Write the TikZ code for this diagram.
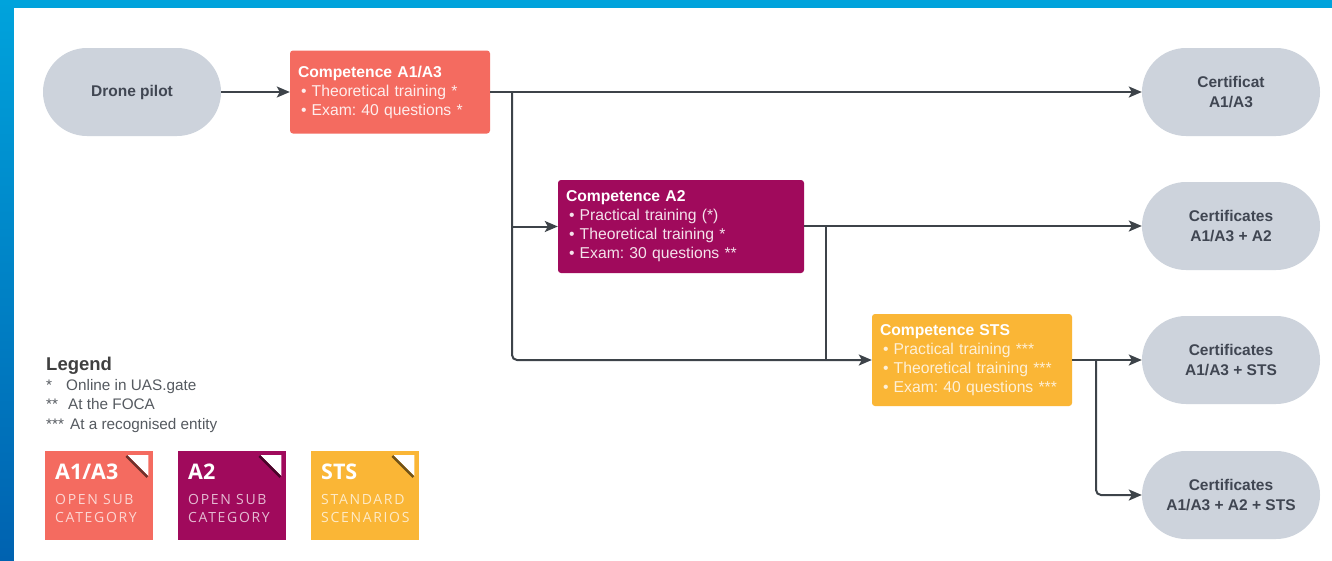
\documentclass[tikz,border=0pt]{standalone}
\usepackage{fontspec}
\setmainfont{Liberation Sans}
\newfontfamily\legfont{Open Sans}
\newfontfamily\legfontsp{Open Sans}[LetterSpace=12]
\usetikzlibrary{arrows.meta}
\frenchspacing

\definecolor{pillgray}{HTML}{CDD3DC}
\definecolor{pilltext}{HTML}{404652}
\definecolor{compred}{HTML}{F46B60}
\definecolor{comppurple}{HTML}{A00A5C}
\definecolor{compamber}{HTML}{FAB636}
\definecolor{wire}{HTML}{3D4349}
\definecolor{legtext}{HTML}{555A60}
\definecolor{frametop}{HTML}{00A3DC}
\definecolor{framebot}{HTML}{0062B0}

\begin{document}
\begin{tikzpicture}[x=1pt,y=-1pt,
  pill/.style={rectangle, rounded corners=44pt, fill=pillgray,
    minimum width=178pt, minimum height=88pt, inner sep=0pt,
    text=pilltext, align=center,
    font=\bfseries\fontsize{15.5}{20}\selectfont},
  comp/.style={rectangle, rounded corners=3pt, align=left,
    inner xsep=8pt, inner ysep=0pt, text=white,
    font=\fontsize{15.7}{19}\selectfont},
  conn/.style={draw=wire, line width=2pt},
  arr/.style={conn, -{Stealth[length=13pt,width=11pt,inset=3pt]}},
  legline/.style={anchor=base west, inner sep=0pt, text=legtext,
    font=\fontsize{15.3}{18}\selectfont},
  legbox/.style={rectangle, minimum width=108pt, minimum height=89pt,
    inner sep=0pt, anchor=north west},
  legtitle/.style={anchor=base west, inner sep=0pt, text=white,
    font=\legfont\bfseries\fontsize{21.5}{24}\selectfont},
  legsub/.style={anchor=base west, inner sep=0pt, text=white, text opacity=0.72,
    font=\legfontsp\fontsize{14}{17}\selectfont},
]
% frame and canvas
\useasboundingbox (0,0) rectangle (1332,560);
\shade[top color=frametop, bottom color=framebot] (0,0) rectangle (1332,560);
\fill[white] (14,8) rectangle (1334,562);

% start and certificates
\node[pill] (pilot) at (132,92) {Drone pilot};
\node[pill] (c1) at (1231,92)  {Certificat\\A1/A3};
\node[pill] (c2) at (1231,226) {Certificates\\A1/A3 + A2};
\node[pill] (c3) at (1231,360) {Certificates\\A1/A3 + STS};
\node[pill] (c4) at (1231,495) {Certificates\\A1/A3 + A2 + STS};

% competence boxes
\node[comp, fill=compred, text width=184pt, minimum height=83pt] (a13) at (390,92)
  {\textbf{Competence A1/A3}\\
   \color{white!88!compred}\hspace*{3pt}• Theoretical training *\\
   \color{white!88!compred}\hspace*{3pt}• Exam: 40 questions *};
\node[comp, fill=comppurple, text width=230pt, minimum height=93pt] (a2) at (681,226.5)
  {\textbf{Competence A2}\\
   \color{white!88!comppurple}\hspace*{3pt}• Practical training (*)\\
   \color{white!88!comppurple}\hspace*{3pt}• Theoretical training *\\
   \color{white!88!comppurple}\hspace*{3pt}• Exam: 30 questions **};
\node[comp, fill=compamber, text width=184pt, minimum height=92pt] (sts) at (972,360)
  {\textbf{Competence STS}\\
   \color{white!80!compamber}\hspace*{3pt}• Practical training ***\\
   \color{white!80!compamber}\hspace*{3pt}• Theoretical training ***\\
   \color{white!80!compamber}\hspace*{3pt}• Exam: 40 questions ***};

% branch points
\coordinate (j1) at (512,92);
\coordinate (j2) at (826,226);
\coordinate (j3) at (1096,360);

% connectors
\draw[arr] (pilot) -- (a13);
\draw[arr] (a13) -- (c1);
\draw[arr] (j1) |- (a2.west);
\draw[arr, rounded corners=5pt] (j1) |- (sts.west);
\draw[arr] (a2.east |- c2) -- (c2);
\draw[conn] (j2) -- (j2 |- sts.west);
\draw[arr] (sts) -- (c3);
\draw[arr, rounded corners=5pt] (j3) |- (c4.west);

% legend
\node[anchor=base west, inner sep=0pt, text=black!75,
  font=\bfseries\fontsize{18.5}{22}\selectfont] (legend) at (46,370) {Legend};
\node[legline] (l1) at (46,390)   {\makebox[20pt][l]{*}Online in UAS.gate};
\node[legline] (l2) at (46,409.5) {\makebox[22pt][l]{**}At the FOCA};
\node[legline] (l3) at (46,429)   {\makebox[24pt][l]{***}At a recognised entity};

\node[legbox, fill=compred]    (k1) at (45,451)  {};
\node[legbox, fill=comppurple] (k2) at (178,451) {};
\node[legbox, fill=compamber]  (k3) at (311,451) {};

\foreach \k/\c in {k1/compred, k2/comppurple, k3/compamber}{
  \fill[white] ([shift={(-26,4)}]\k.north east) -- ([shift={(-5,4)}]\k.north east)
    -- ([shift={(-5,25)}]\k.north east) -- cycle;
  \draw[black!55!\c, line width=2.5pt] ([shift={(-27,5)}]\k.north east)
    -- ([shift={(-6,26)}]\k.north east);
}

\node[legtitle] (k1t) at ([shift={(10,28)}]k1.north west) {A1/A3};
\node[legsub]   (k1a) at ([shift={(10,53)}]k1.north west) {OPEN SUB};
\node[legsub]   (k1b) at ([shift={(10,71)}]k1.north west) {CATEGORY};
\node[legtitle] (k2t) at ([shift={(10,28)}]k2.north west) {A2};
\node[legsub]   (k2a) at ([shift={(10,53)}]k2.north west) {OPEN SUB};
\node[legsub]   (k2b) at ([shift={(10,71)}]k2.north west) {CATEGORY};
\node[legtitle] (k3t) at ([shift={(10,28)}]k3.north west) {STS};
\node[legsub]   (k3a) at ([shift={(10,53)}]k3.north west) {STANDARD};
\node[legsub]   (k3b) at ([shift={(10,71)}]k3.north west) {SCENARIOS};
\end{tikzpicture}
\end{document}
